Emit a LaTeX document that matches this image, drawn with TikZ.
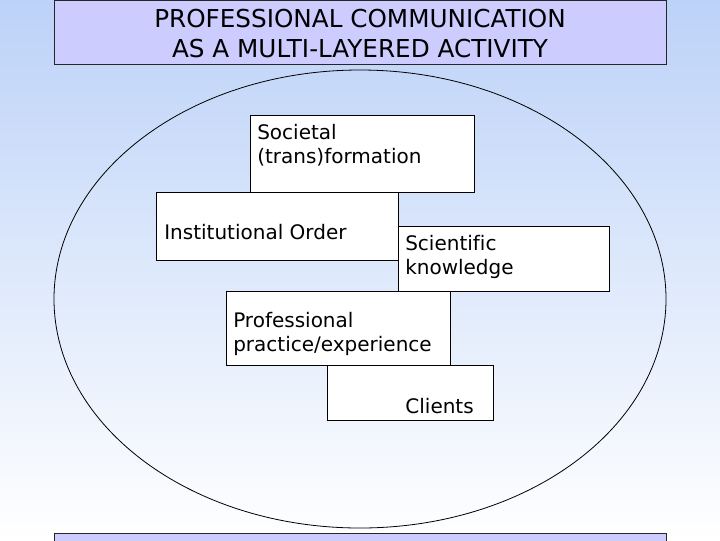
\documentclass[tikz,border=0pt]{standalone}
\usepackage{fontspec}
\setmainfont[Ligatures=NoCommon]{DejaVu Sans}
\definecolor{bgtop}{RGB}{188,210,248}
\definecolor{titlefill}{RGB}{204,204,255}
\tikzset{
  layer/.style={draw=black, line width=0.75pt, fill=white, anchor=north west, inner sep=0pt},
  boxtext/.style={anchor=north west, inner sep=0pt, align=left, font=\fontsize{15}{18}\selectfont},
  titletext/.style={align=center, inner sep=0pt, font=\fontsize{18.5}{22.5}\selectfont}
}
\begin{document}
\begin{tikzpicture}[x=0.75pt,y=-0.75pt]
\useasboundingbox (0,0) rectangle (720,540);
\clip (0,0) rectangle (720,540);
\fill[top color=bgtop, bottom color=white, shading angle=0] (0,0) rectangle (720,540);
% title box
\node[draw=black!85, line width=0.75pt, fill=titlefill, anchor=north west, inner sep=0pt,
      minimum width=459pt, minimum height=48pt] (title) at (54,0) {};
\node[titletext] (titletxt) at (360,34) {PROFESSIONAL COMMUNICATION\\AS A MULTI-LAYERED ACTIVITY};
% bottom box
\node[draw=black!85, line width=0.75pt, fill=titlefill, anchor=north west, inner sep=0pt,
      minimum width=459pt, minimum height=12pt] (bottom) at (54,533) {};
% ellipse
\draw[line width=0.6pt] (360,299) ellipse [x radius=229.5pt, y radius=171.75pt];
% layers
\node[layer, minimum width=168pt, minimum height=57.75pt] (soc) at (250,115) {};
\node[layer, minimum width=181.5pt, minimum height=51pt] (inst) at (156,192) {};
\node[layer, minimum width=158.25pt, minimum height=48.75pt] (sci) at (398,226) {};
\node[layer, minimum width=168pt, minimum height=55.5pt] (prof) at (226,291) {};
\node[layer, minimum width=124.5pt, minimum height=41.25pt] (cli) at (327,365) {};
% texts
\node[boxtext] (soct) at (257,124.5) {Societal\\(trans)formation};
\node[boxtext] (instt) at (164,224.5) {Institutional Order};
\node[boxtext] (scit) at (405,235.5) {Scientific\\knowledge};
\node[boxtext] (proft) at (233,312.5) {Professional\\practice/experience};
\node[boxtext, anchor=north east] (clit) at (474,398.5) {Clients};
\end{tikzpicture}
\end{document}
